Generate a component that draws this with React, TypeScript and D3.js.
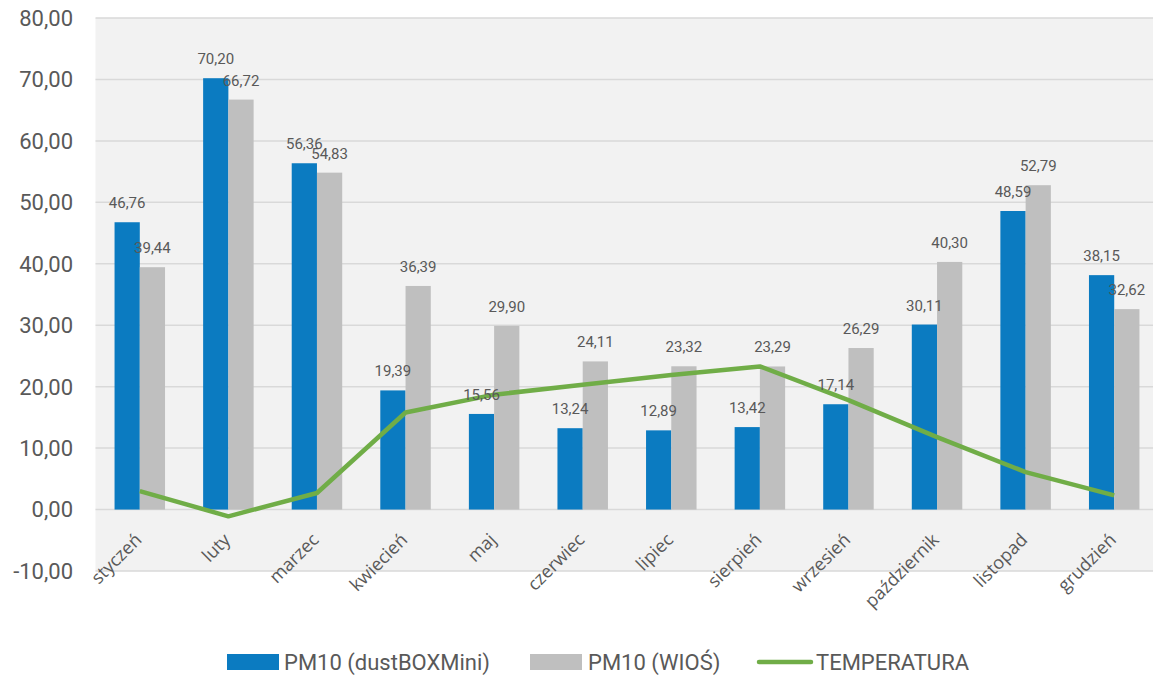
import React from "react";
import * as d3 from "d3";

const months = ["styczeń","luty","marzec","kwiecień","maj","czerwiec","lipiec","sierpień","wrzesień","październik","listopad","grudzień"];
const pmDust = [46.76,70.20,56.36,19.39,15.56,13.24,12.89,13.42,17.14,30.11,48.59,38.15];
const pmWios = [39.44,66.72,54.83,36.39,29.90,24.11,23.32,23.29,26.29,40.30,52.79,32.62];
const temperature = [3.0,-1.1,2.7,15.8,18.7,20.3,21.9,23.3,17.8,11.8,6.1,2.3];
const yTicks = [-10,0,10,20,30,40,50,60,70,80];
const seriesNames = ["PM10 (dustBOXMini)","PM10 (WIOŚ)","TEMPERATURA"];

const W = 1153, H = 675;
const left = 95.5, right = 1158.5, top = 18, bottom = 571;
const BLUE = "#0b7bc1", GRAY = "#bfbfbf", GREEN = "#70ad47", TXT = "#595959";
const fmt = (v: number) => v.toFixed(2).replace(".", ",");

export default function App() {
  const x = d3.scaleBand<string>().domain(months).range([left, right]).paddingInner(0.43).paddingOuter(0.215);
  const y = d3.scaleLinear().domain([-10, 80]).range([bottom, top]);
  const bw = x.bandwidth() / 2;
  const cx = (m: string) => (x(m) as number) + x.bandwidth() / 2;
  const line = d3.line<number>().x((_, i) => cx(months[i])).y(d => y(d));
  return (
    <svg width={W} height={H} style={{ position: "absolute", left: 0, top: 0, background: "#fff" }}>
      <rect x={left} y={top} width={right - left} height={bottom - top} fill="#f2f2f2" />
      {yTicks.map(t => (
        <g key={t}>
          <line x1={left} x2={right} y1={y(t)} y2={y(t)} stroke="#d9d9d9" strokeWidth={1.5} />
          <text x={73} y={y(t)} dy="0.36em" textAnchor="end" fontFamily="Roboto" fontSize={22} fill={TXT}>{fmt(t)}</text>
        </g>
      ))}
      {months.map((m, i) => (
        <g key={m}>
          <rect x={x(m)} y={y(pmDust[i])} width={bw} height={y(0) - y(pmDust[i])} fill={BLUE} />
          <rect x={(x(m) as number) + bw} y={y(pmWios[i])} width={bw} height={y(0) - y(pmWios[i])} fill={GRAY} />
        </g>
      ))}
      <path d={line(temperature) || ""} fill="none" stroke={GREEN} strokeWidth={4.5} strokeLinejoin="round" />
      {months.map((m, i) => (
        <g key={m + "l"} fontFamily="Roboto" fontSize={15} fill={TXT} textAnchor="middle">
          <text x={(x(m) as number) + bw / 2} y={y(pmDust[i]) - 14}>{fmt(pmDust[i])}</text>
          <text x={(x(m) as number) + bw * 1.5} y={y(pmWios[i]) - 14}>{fmt(pmWios[i])}</text>
        </g>
      ))}
      {months.map(m => (
        <text key={m + "x"} transform={`translate(${cx(m) + 3},${541}) rotate(-45)`} textAnchor="end"
          fontFamily="Open Sans" fontSize={18} fill={TXT}>{m}</text>
      ))}
      <g fontFamily="Roboto" fontSize={22} fill={TXT}>
        <rect x={227} y={654} width={52} height={16} fill={BLUE} />
        <text x={284} y={662} dy="0.36em">{seriesNames[0]}</text>
        <rect x={530} y={654} width={52} height={16} fill={GRAY} />
        <text x={588} y={662} dy="0.36em">{seriesNames[1]}</text>
        <line x1={759} x2={811} y1={662} y2={662} stroke={GREEN} strokeWidth={4.5} strokeLinecap="round" />
        <text x={816} y={662} dy="0.36em">{seriesNames[2]}</text>
      </g>
    </svg>
  );
}
